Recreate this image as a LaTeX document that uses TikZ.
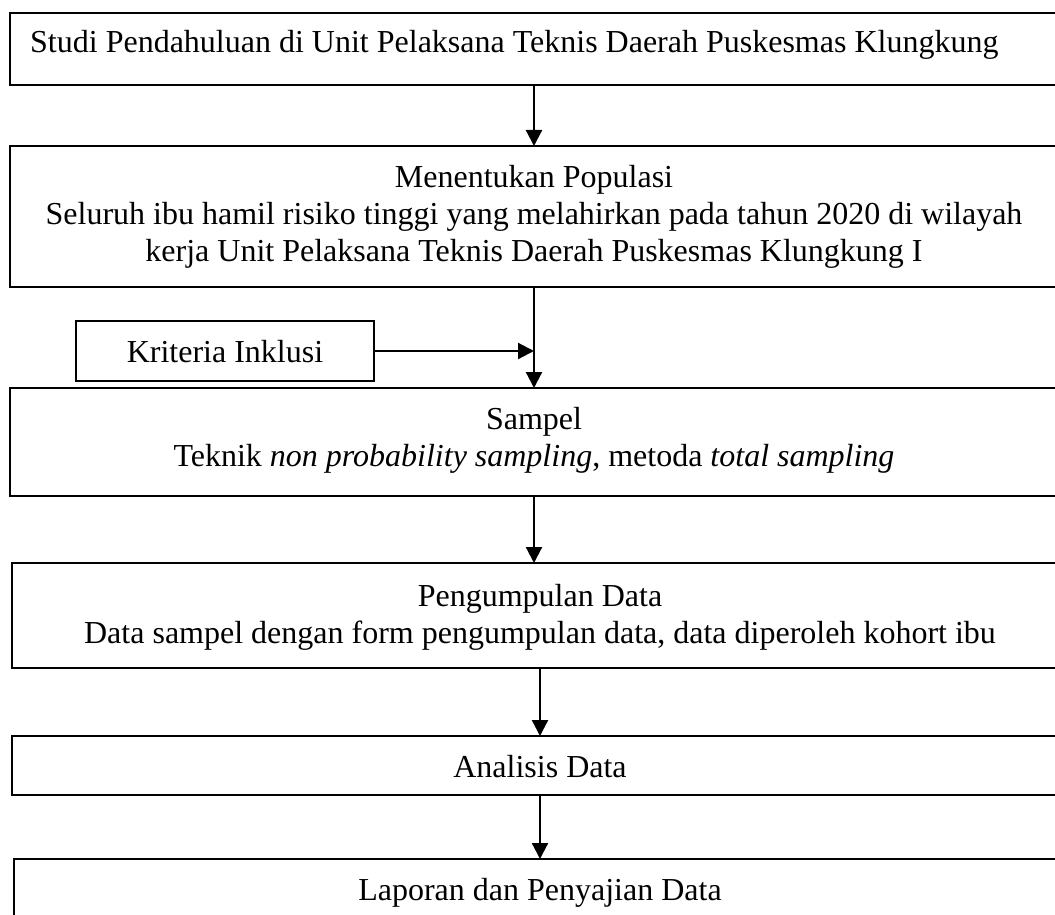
\documentclass[tikz,border=0pt]{standalone}
\usepackage{fontspec}
\setmainfont{Liberation Serif}
\usetikzlibrary{arrows.meta}
\tikzset{
  kotak/.style={draw, line width=2.2pt, inner sep=0pt, outer sep=0pt, anchor=north west},
  teks/.style={anchor=base, inner sep=0pt, font=\fontsize{32}{37}\selectfont},
  panah/.style={-{Triangle[length=16pt,width=16pt]}, line width=2.2pt}
}
\begin{document}
\begin{tikzpicture}[x=1pt,y=-1pt, line join=miter]
\useasboundingbox (0,0) rectangle (1055,915);
% kotak alur penelitian
\node[kotak, minimum width=1048pt, minimum height=72pt] (studi) at (10,13) {};
\node[kotak, minimum width=1048pt, minimum height=141pt] (populasi) at (10,146) {};
\node[kotak, minimum width=298pt, minimum height=60pt] (inklusi) at (76,321) {};
\node[kotak, minimum width=1048pt, minimum height=108pt] (sampel) at (10,388) {};
\node[kotak, minimum width=1056pt, minimum height=105pt] (kumpul) at (12,563) {};
\node[kotak, minimum width=1056pt, minimum height=59pt] (analisis) at (12,736) {};
\node[kotak, minimum width=1052pt, minimum height=100pt] (laporan) at (14,859) {};
% isi teks
\node[teks, anchor=base west] (tStudi) at (30,53) {Studi Pendahuluan di Unit Pelaksana Teknis Daerah Puskesmas Klungkung};
\node[teks] (tPop1) at (534,187) {Menentukan Populasi};
\node[teks] (tPop2) at (534,224) {Seluruh ibu hamil risiko tinggi yang melahirkan pada tahun 2020 di wilayah};
\node[teks] (tPop3) at (534,261) {kerja Unit Pelaksana Teknis Daerah Puskesmas Klungkung I};
\node[teks] (tInklusi) at (225,362) {Kriteria Inklusi};
\node[teks] (tSampel1) at (534,429) {Sampel};
\node[teks] (tSampel2) at (534,466) {Teknik \textit{non probability sampling}, metoda \textit{total sampling}};
\node[teks] (tKumpul1) at (540,606) {Pengumpulan Data};
\node[teks] (tKumpul2) at (540,643) {Data sampel dengan form pengumpulan data, data diperoleh kohort ibu};
\node[teks] (tAnalisis) at (540,777) {Analisis Data};
\node[teks] (tLaporan) at (540,900) {Laporan dan Penyajian Data};
% panah
\draw[panah] (studi.south) -- (populasi.north);
\draw[panah] (populasi.south) -- (sampel.north);
\draw[panah] (inklusi.east) -- (populasi.south |- inklusi.east);
\draw[panah] (sampel.south) -- (sampel.south |- kumpul.north);
\draw[panah] (kumpul.south) -- (analisis.north);
\draw[panah] (analisis.south) -- (analisis.south |- laporan.north);
\end{tikzpicture}
\end{document}
